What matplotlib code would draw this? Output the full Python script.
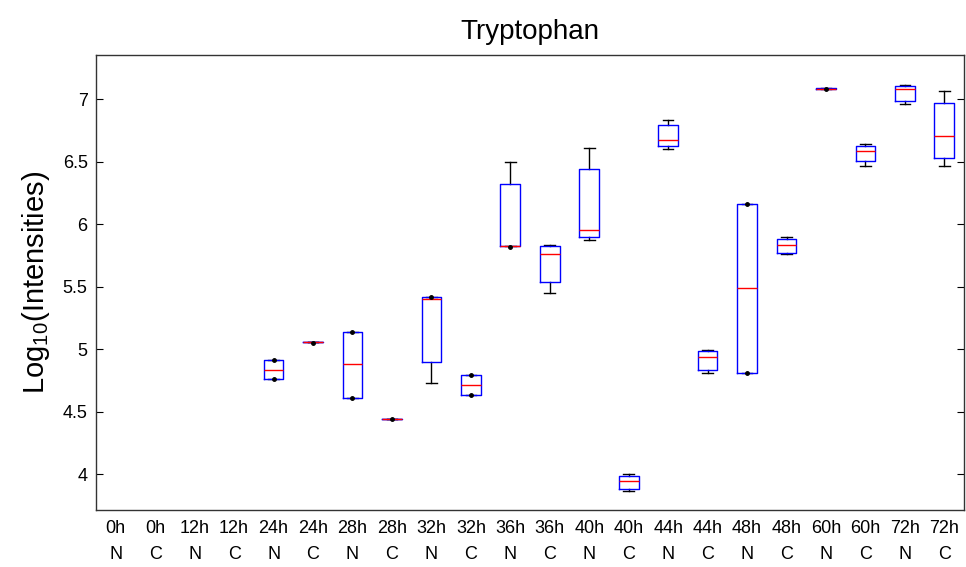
import matplotlib
matplotlib.use('Agg')
import matplotlib.pyplot as plt
import numpy as np

plt.rcParams['font.family'] = ['Liberation Sans', 'DejaVu Sans']
plt.rcParams['mathtext.fontset'] = 'custom'
plt.rcParams['mathtext.rm'] = 'Liberation Sans'
plt.rcParams['mathtext.it'] = 'Liberation Sans'

times = ['0h', '0h', '12h', '12h', '24h', '24h', '28h', '28h', '32h', '32h', '36h', '36h',
         '40h', '40h', '44h', '44h', '48h', '48h', '60h', '60h', '72h', '72h']
groups = ['N', 'C'] * 11

# box stats per condition (None = no data)
whislo = [None, None, None, None, 4.764, 5.053, 4.610, 4.444, 4.730, 4.634, 5.822, 5.451,
          5.870, 3.867, 6.602, 4.812, 4.812, 5.761, 7.086, 6.469, 6.962, 6.469]
q1 = [None, None, None, None, 4.764, 5.053, 4.610, 4.444, 4.898, 4.634, 5.822, 5.534,
      5.894, 3.877, 6.626, 4.836, 4.812, 5.772, 7.086, 6.506, 6.984, 6.530]
med = [None, None, None, None, 4.836, 5.053, 4.877, 4.444, 5.405, 4.716, 5.822, 5.764,
       5.953, 3.942, 6.674, 4.935, 5.486, 5.836, 7.082, 6.589, 7.083, 6.709]
q3 = [None, None, None, None, 4.911, 5.053, 5.139, 4.444, 5.416, 4.791, 6.324, 5.822,
      6.445, 3.987, 6.794, 4.983, 6.159, 5.881, 7.091, 6.626, 7.107, 6.974]
whishi = [None, None, None, None, 4.911, 5.053, 5.139, 4.444, 5.416, 4.791, 6.495, 5.836,
          6.613, 3.998, 6.832, 4.994, 6.159, 5.900, 7.091, 6.639, 7.115, 7.070]
# single points drawn as dots
dots = [[], [], [], [], [4.911, 4.764], [5.050], [5.139, 4.610], [4.440], [5.416], [4.791, 4.634],
        [5.818], [], [], [], [], [], [6.159, 4.808], [], [7.080], [], [], []]

fig = plt.figure(figsize=(9.66, 5.67), dpi=100)
ax = fig.add_axes([0.0994, 0.1005, 0.8986, 0.8020])

stats = []
pos = []
for i in range(len(times)):
    if med[i] is None:
        continue
    stats.append(dict(whislo=whislo[i], q1=q1[i], med=med[i], q3=q3[i], whishi=whishi[i], fliers=[]))
    pos.append(i + 1)

ax.bxp(stats, positions=pos, widths=0.5, showfliers=False, capwidths=0.27,
       boxprops=dict(color='#0000ff', linewidth=1.0, zorder=3),
       medianprops=dict(color='#ff0000', linewidth=1.0, zorder=4),
       whiskerprops=dict(color='black', linewidth=1.0, zorder=2),
       capprops=dict(color='black', linewidth=1.0, zorder=2))

for i, d in enumerate(dots):
    if d:
        ax.plot([i + 1] * len(d), d, '.', color='black', markersize=5, zorder=5)

ax.set_xlim(0.5, 22.5)
ax.set_ylim(3.712, 7.352)
ax.set_yticks([4, 4.5, 5, 5.5, 6, 6.5, 7])
ax.set_yticklabels(['4', '4.5', '5', '5.5', '6', '6.5', '7'])
ax.set_xticks(range(1, 23))
ax.set_xticklabels([t + '\n' + g for t, g in zip(times, groups)], linespacing=1.75)
ax.tick_params(axis='x', length=0, pad=7, labelsize=13)
ax.tick_params(axis='y', direction='in', right=True, length=5, labelsize=13, pad=6)
for s in ax.spines.values():
    s.set_linewidth(1.0)
    s.set_color('#333333')

ax.set_ylabel('Log$_{10}$(Intensities)', fontsize=21, labelpad=8)
ax.set_title('Tryptophan', fontsize=20, pad=12)

fig.savefig('out.png', dpi=100)
